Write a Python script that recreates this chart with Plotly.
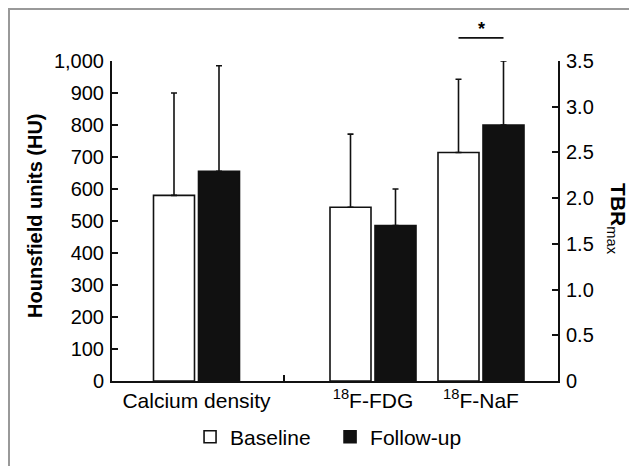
import plotly.graph_objects as go

# ---- data ----
categories = ["Calcium density", "<sup>18</sup>F-FDG", "<sup>18</sup>F-NaF"]
hu_baseline = [580]
hu_followup = [655]
hu_baseline_err = [320]
hu_followup_err = [330]
tbr_baseline = [1.9, 2.5]
tbr_followup = [1.7, 2.8]
tbr_baseline_err = [0.8, 0.8]
tbr_followup_err = [0.4, 0.7]
hu_ticks = list(range(0, 1001, 100))
tbr_ticks = [0, 0.5, 1.0, 1.5, 2.0, 2.5, 3.0, 3.5]
tbr_ticktext = ["0", "0.5", "1.0", "1.5", "2.0", "2.5", "3.0", "3.5"]

# ---- layout positions (axis units) ----
centers = [0.845, 2.61, 3.69]
separator = 1.72
bw = 0.41
off_b = -0.43
off_f = 0.02

FONT = "Arial, Liberation Sans, sans-serif"
DARK = "#111111"

err_style = dict(type="data", symmetric=False, color=DARK, thickness=1.6, width=3)

fig = go.Figure()
fig.add_trace(go.Bar(
    name="Baseline", x=centers[:1], y=hu_baseline, width=bw, offset=off_b,
    marker=dict(color="white", line=dict(color=DARK, width=1.6)),
    error_y=dict(array=hu_baseline_err, arrayminus=[0], **err_style),
    yaxis="y", legendgroup="b", showlegend=True))
fig.add_trace(go.Bar(
    name="Follow-up", x=centers[:1], y=hu_followup, width=bw, offset=off_f,
    marker=dict(color=DARK, line=dict(color=DARK, width=1.6)),
    error_y=dict(array=hu_followup_err, arrayminus=[0], **err_style),
    yaxis="y", legendgroup="f", showlegend=True))
fig.add_trace(go.Bar(
    name="Baseline", x=centers[1:], y=tbr_baseline, width=bw, offset=off_b,
    marker=dict(color="white", line=dict(color=DARK, width=1.6)),
    error_y=dict(array=tbr_baseline_err, arrayminus=[0, 0], **err_style),
    yaxis="y2", legendgroup="b", showlegend=False))
fig.add_trace(go.Bar(
    name="Follow-up", x=centers[1:], y=tbr_followup, width=bw, offset=off_f,
    marker=dict(color=DARK, line=dict(color=DARK, width=1.6)),
    error_y=dict(array=tbr_followup_err, arrayminus=[0, 0], **err_style),
    yaxis="y2", legendgroup="f", showlegend=False))

tickfont = dict(family=FONT, size=20, color="black")

fig.update_layout(
    template="none",
    width=629, height=458,
    margin=dict(l=104, r=79, t=53, b=85, autoexpand=False),
    paper_bgcolor="white", plot_bgcolor="white",
    barmode="overlay",
    font=dict(family=FONT, color="black"),
    xaxis=dict(
        range=[0, 4.46], showgrid=False, zeroline=False, automargin=False,
        showline=True, linecolor=DARK, linewidth=2,
        tickmode="array", tickvals=centers, ticktext=categories,
        ticks="", tickfont=dict(family=FONT, size=21, color="black"),
        minor=dict(tickmode="array", tickvals=[separator], ticks="inside",
                   ticklen=6, tickwidth=1.6, tickcolor=DARK),
    ),
    yaxis=dict(
        range=[0, 1000], showgrid=False, zeroline=False, automargin=False,
        showline=True, linecolor=DARK, linewidth=2,
        tickmode="array", tickvals=hu_ticks, tickformat=",d",
        ticks="inside", ticklen=6, tickwidth=1.6, tickcolor=DARK,
        tickfont=tickfont, ticklabelstandoff=2,
    ),
    yaxis2=dict(
        range=[0, 3.5], overlaying="y", side="right", anchor="x",
        showgrid=False, zeroline=False, automargin=False,
        showline=True, linecolor=DARK, linewidth=2,
        tickmode="array", tickvals=tbr_ticks, ticktext=tbr_ticktext,
        ticks="inside", ticklen=6, tickwidth=1.6, tickcolor=DARK,
        tickfont=tickfont, ticklabelstandoff=2,
    ),
    legend=dict(
        orientation="h", xref="paper", x=0.175, xanchor="left",
        yref="container", y=0.063, yanchor="middle",
        font=dict(family=FONT, size=21, color="black"),
        entrywidth=95, entrywidthmode="pixels",
        bgcolor="rgba(0,0,0,0)", borderwidth=0,
    ),
    showlegend=True,
)

# axis titles
fig.add_annotation(
    text="<b>Hounsfield units (HU)</b>", xref="paper", yref="paper",
    x=-0.1726, y=0.516, textangle=-90, showarrow=False,
    xanchor="center", yanchor="middle",
    font=dict(family=FONT, size=20, color="black"))
fig.add_annotation(
    text="<b>TBR</b><sub>max</sub>", xref="paper", yref="paper",
    x=1.1323, y=0.506, textangle=90, showarrow=False,
    xanchor="center", yanchor="middle",
    font=dict(family=FONT, size=21, color="black"))

# significance bracket
naf = centers[2]
fig.add_shape(type="line", xref="x", yref="paper",
              x0=naf + off_b + bw / 2, x1=naf + off_f + bw / 2,
              y0=1.072, y1=1.072, line=dict(color=DARK, width=1.8))
fig.add_annotation(text="<b>*</b>", xref="x", yref="paper",
                   x=naf, y=1.10, showarrow=False, yanchor="middle",
                   font=dict(family=FONT, size=18, color="black"))

# outer frame (extends past right and bottom edges, as in the reference)
fig.add_shape(type="path", xref="paper", yref="paper",
              path="M -0.23094 -0.40 L -0.23094 1.1625 L 1.25 1.1625",
              line=dict(color="#999999", width=2), layer="above")

fig.write_html("out.html")
